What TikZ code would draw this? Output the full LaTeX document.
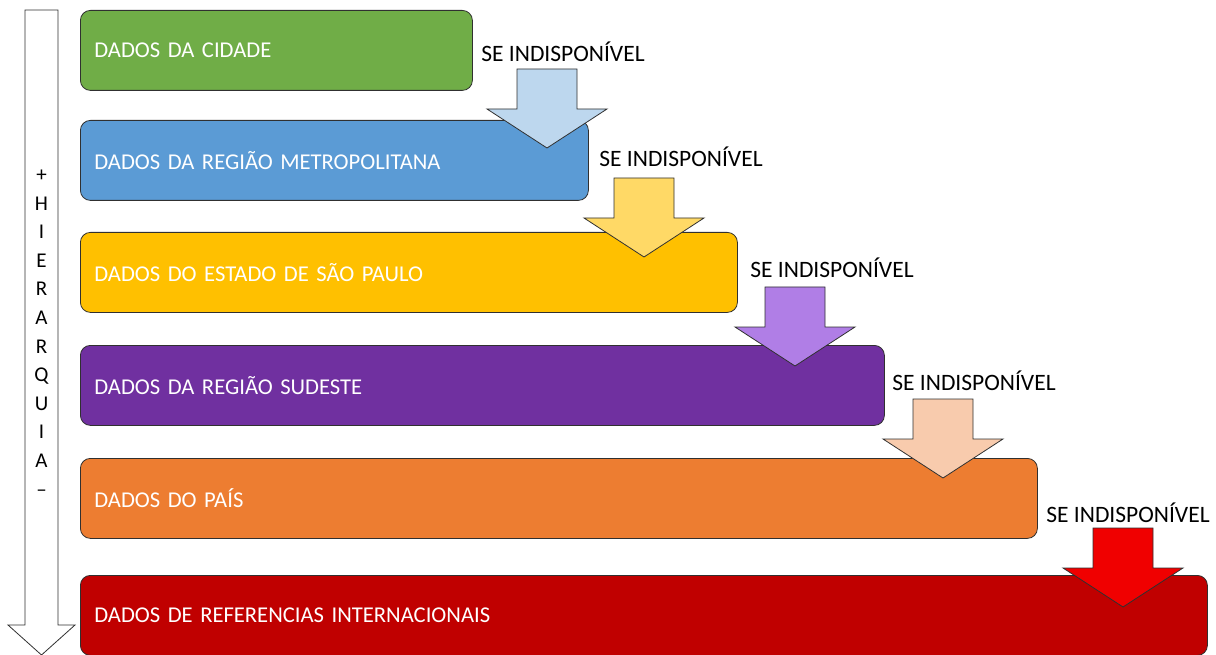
\documentclass[tikz,border=0pt]{standalone}
\usepackage{fontspec}
\setmainfont{Carlito}
\definecolor{cgreen}{HTML}{70AD47}
\definecolor{cblue}{HTML}{5B9BD5}
\definecolor{cyellow}{HTML}{FFC000}
\definecolor{cpurple}{HTML}{7030A0}
\definecolor{corange}{HTML}{ED7D31}
\definecolor{cdarkred}{HTML}{C00000}
\definecolor{alblue}{HTML}{BDD7EE}
\definecolor{alyellow}{HTML}{FFD966}
\definecolor{alpurple}{HTML}{B07EE6}
\definecolor{alpeach}{HTML}{F8CBAD}
\definecolor{alred}{HTML}{F00000}
\definecolor{edge}{HTML}{303030}
\newcommand{\levelfont}{\fontsize{22.6}{26}\selectfont\spaceskip=3.6pt\relax}
\tikzset{
  levelbox/.style={draw=edge, line width=0.8pt, rounded corners=10pt, anchor=north west,
    minimum height=80pt, inner xsep=14pt, inner ysep=0pt, align=left, text=white,
    font=\levelfont},
  fallback/.style={font=\fontsize{23.5}{27}\selectfont, text=black, inner sep=0pt},
  downarrow/.style={draw=edge, line width=0.8pt, line join=miter},
  hier/.style={font=\fontsize{21}{28.6}\selectfont, align=center, inner sep=0pt}
}
% shaft 60 wide, head 120 wide, about 80 tall overall
\newcommand{\fallarrow}[3]{% fill colour, centre x, top y
  \draw[downarrow, fill=#1]
    (#2-30,#3) -- (#2+30,#3) -- (#2+30,#3+40) -- (#2+60,#3+40)
    -- (#2,#3+79) -- (#2-60,#3+40) -- (#2-30,#3+40) -- cycle;}
\begin{document}
\begin{tikzpicture}[x=1pt,y=-1pt]
\useasboundingbox (0,0) rectangle (1216,655);

% hierarchy arrow on the left
\draw[downarrow, fill=white]
  (25,10) -- (58,10) -- (58,625) -- (75,625) -- (41.5,655) -- (8,625) -- (25,625) -- cycle;
\node[hier] (hierlabel) at (41.5,333) {+\\H\\I\\E\\R\\A\\R\\Q\\U\\I\\A\\--};

% levels
\node[levelbox, fill=cgreen,   minimum width=392pt,  text width=364pt]  (city)   at (80,10)  {DADOS DA CIDADE};
\node[levelbox, fill=cblue,    minimum width=508pt,  text width=480pt]  (metro)  at (80,120) {DADOS DA REGIÃO METROPOLITANA};
\node[levelbox, fill=cyellow,  minimum width=657pt,  text width=629pt]  (state)  at (80,232) {DADOS DO ESTADO DE SÃO PAULO};
\node[levelbox, fill=cpurple,  minimum width=804pt,  text width=776pt]  (region) at (80,345) {DADOS DA REGIÃO SUDESTE};
\node[levelbox, fill=corange,  minimum width=957pt,  text width=929pt]  (country) at (80,458) {DADOS DO PAÍS};
\node[levelbox, fill=cdarkred, minimum width=1127pt, text width=1099pt] (intl)   at (80,575) {DADOS DE REFERENCIAS INTERNACIONAIS};

% fallback arrows
\fallarrow{alblue}{547}{69}
\fallarrow{alyellow}{644}{178}
\fallarrow{alpurple}{795}{287}
\fallarrow{alpeach}{943}{399}
\fallarrow{alred}{1123}{528}

% fallback labels
\node[fallback] (f1) at (563,52)  {SE INDISPONÍVEL};
\node[fallback] (f2) at (681,157) {SE INDISPONÍVEL};
\node[fallback] (f3) at (832,268) {SE INDISPONÍVEL};
\node[fallback] (f4) at (974,381) {SE INDISPONÍVEL};
\node[fallback] (f5) at (1128,513) {SE INDISPONÍVEL};
\end{tikzpicture}
\end{document}
